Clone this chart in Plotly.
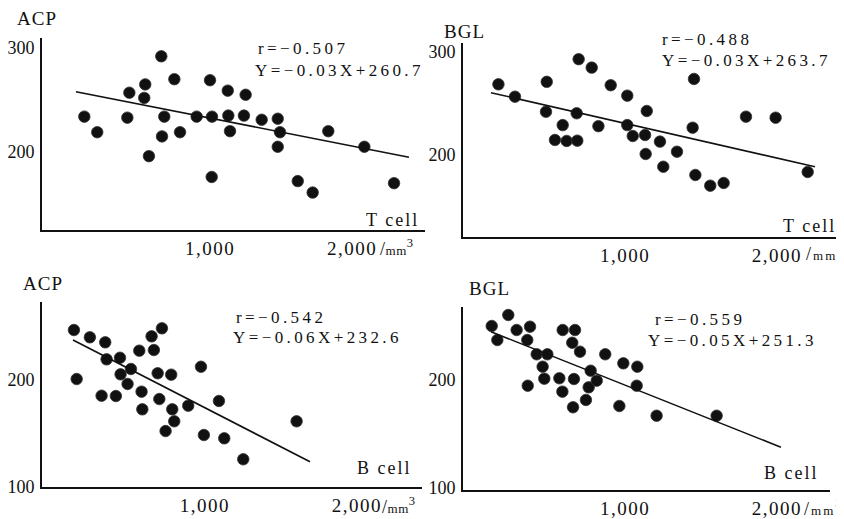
import plotly.graph_objects as go

# ---------------- data ----------------
# Panel 1: ACP vs T cell
acp_t_x = [115, 206, 432, 418, 544, 537, 570, 657, 678, 662, 749, 789, 906, 1000, 1014,
           1012, 1125, 1129, 1141, 1239, 1251, 1364, 1477, 1493, 1477, 1618, 1723, 1833, 2087, 2296]
acp_t_y = [234, 219, 257, 233, 265, 252, 196, 292, 234, 215, 270, 219, 234, 269, 234,
           176, 259, 235, 220, 235, 255, 231, 232, 219, 205, 172, 161, 220, 205, 170]
acp_t_fit_x = [56, 2401]
acp_t_fit_y = [258, 195]

# Panel 2: BGL vs T cell
bgl_t_x = [167, 276, 485, 480, 539, 590, 616, 686, 682, 695, 781, 825, 906, 1015, 1015,
           1051, 1132, 1143, 1136, 1230, 1252, 1342, 1445, 1454, 1463, 1561, 1649, 1796, 1991, 2202]
bgl_t_y = [268.6, 256.6, 271, 242, 214.6, 229, 213.6, 213.9, 240.5, 293, 284.8, 228, 267.7, 257.6, 229,
           218.4, 219.4, 242.7, 201, 213, 188.6, 203.2, 226.5, 273.8, 180.6, 170.2, 172.8, 237.2, 236.2, 183.5]
bgl_t_fit_x = [118, 2250]
bgl_t_fit_y = [260.5, 188.6]

# Panel 3: ACP vs B cell
acp_b_x = [138, 156, 243, 320, 344, 353, 414, 441, 445, 491, 513, 568, 583, 588, 649,
           664, 689, 700, 717, 741, 778, 785, 798, 890, 974, 993, 1092, 1127, 1252, 1603]
acp_b_y = [246.7, 200.9, 239.9, 185.3, 235.2, 219.3, 185, 220.8, 205.3, 196.3, 210.3, 227.4, 189.1, 172.6, 240.8,
           228, 206.3, 182.2, 248.3, 152.3, 205, 172.6, 161.4, 176, 212.4, 148.6, 180.4, 145.5, 125.9, 161.4]
acp_b_fit_x = [132, 1691]
acp_b_fit_y = [237.4, 123.6]

# Panel 4: BGL vs B cell
bgl_b_x = [123, 160, 232, 287, 357, 375, 360, 419, 458, 469, 489, 568, 588, 590, 653,
           664, 658, 671, 704, 743, 761, 774, 814, 870, 963, 989, 1077, 1081, 1208, 1603]
bgl_b_y = [250, 237, 260.2, 246.3, 237, 249.4, 194.7, 223.8, 212.3, 201.2, 223.8, 201.6, 189.2, 246.3, 234.5,
           200.9, 174.7, 246.3, 226.2, 181.5, 193.2, 208.6, 199.4, 223.8, 175.9, 215.4, 194.7, 212.3, 166.9, 166.9]
bgl_b_fit_x = [118, 2026]
bgl_b_fit_y = [244.7, 137.7]

x_tickvals = [1000, 2000]
x_ticktext = ["1,000", "2,000"]
y_tickvals_top = [200, 300]
y_tickvals_bottom = [100, 200]

panel_titles = ["ACP", "BGL", "ACP", "BGL"]
cell_labels = ["T cell", "T cell", "B cell", "B cell"]
r_texts = ["r=−0.507", "r=−0.488", "r=−0.542", "r=−0.559"]
eq_texts = ["Y=−0.03X+260.7", "Y=−0.03X+263.7", "Y=−0.06X+232.6", "Y=−0.05X+251.3"]

# ---------------- layout helpers ----------------
# the page body keeps the browser's 8px margin, so the figure is drawn 8px in
OFF = 8
W, H = 844 - OFF, 519 - OFF
FONT = "Liberation Serif, Times New Roman, serif"


def px(x):
    return (x - OFF) / W


def py(y):
    return 1 - (y - OFF) / H


def spaced(t, s):
    return f'<span style="letter-spacing:{s}px">{t}</span>'


panels = [
    dict(x=acp_t_x, y=acp_t_y, fx=acp_t_fit_x, fy=acp_t_fit_y,
         dom_x=(42, 425), dom_y=(38, 230), xr=(-183, 2514), yr=(125, 309.6), yt=y_tickvals_top,
         title=(16, 18), r=(257, 49), eq=(254, 70), cell=(420, 220), unit=(379, 247), usp=0.5),
    dict(x=bgl_t_x, y=bgl_t_y, fx=bgl_t_fit_x, fy=bgl_t_fit_y,
         dom_x=(463, 844), dom_y=(43, 237), xr=(-66, 2441), yr=(120.4, 308.7), yt=y_tickvals_top,
         title=(443, 31), r=(661, 39), eq=(661, 60), cell=(837, 226), unit=(805, 253), usp=2.0),
    dict(x=acp_b_x, y=acp_b_y, fx=acp_b_fit_x, fy=acp_b_fit_y,
         dom_x=(42, 422), dom_y=(302, 487), xr=(-72, 2428), yr=(100, 272.9), yt=y_tickvals_bottom,
         title=(22, 283), r=(235, 317), eq=(232, 337), cell=(413, 468), unit=(381, 505), usp=0.5),
    dict(x=bgl_b_x, y=bgl_b_y, fx=bgl_b_fit_x, fy=bgl_b_fit_y,
         dom_x=(463, 830), dom_y=(307, 490), xr=(-66, 2349), yr=(98.1, 267.6), yt=y_tickvals_bottom,
         title=(468, 288), r=(654, 319), eq=(647, 340), cell=(820, 473), unit=(803, 507), usp=2.0),
]

fig = go.Figure()
annotations = []
layout = dict(
    width=W, height=H,
    margin=dict(l=0, r=0, t=0, b=0, autoexpand=False),
    paper_bgcolor="white", plot_bgcolor="white",
    showlegend=False,
    font=dict(family=FONT, size=18, color="#111"),
)

for i, p in enumerate(panels):
    n = i + 1
    xa = "x" if n == 1 else f"x{n}"
    ya = "y" if n == 1 else f"y{n}"
    fig.add_trace(go.Scatter(x=p["x"], y=p["y"], mode="markers", xaxis=xa, yaxis=ya,
                             marker=dict(size=11.5, color="#111", line=dict(width=0.8, color="#333")),
                             cliponaxis=False))
    fig.add_trace(go.Scatter(x=p["fx"], y=p["fy"], mode="lines", xaxis=xa, yaxis=ya,
                             line=dict(color="#111", width=1.6)))
    common = dict(showgrid=False, zeroline=False, showline=True, linecolor="#111",
                  linewidth=2, ticks="")
    layout["xaxis" if n == 1 else f"xaxis{n}"] = dict(
        common, domain=[px(p["dom_x"][0]), px(p["dom_x"][1])], range=list(p["xr"]),
        anchor=ya, tickvals=x_tickvals, ticktext=[spaced(t, 1.5) for t in x_ticktext],
        tickfont=dict(family=FONT, size=19, color="#111"), ticklabelstandoff=0)
    layout["yaxis" if n == 1 else f"yaxis{n}"] = dict(
        common, domain=[py(p["dom_y"][1]), py(p["dom_y"][0])], range=list(p["yr"]),
        anchor=xa, tickvals=p["yt"], ticktext=[str(v) for v in p["yt"]],
        tickfont=dict(family=FONT, size=18, color="#111"), ticklabelstandoff=2)

    def ann(text, pos, xanchor="left", size=18):
        annotations.append(dict(text=text, x=px(pos[0]), y=py(pos[1]), xref="paper", yref="paper",
                                xanchor=xanchor, yanchor="middle", align=xanchor, showarrow=False,
                                borderpad=0, font=dict(family=FONT, size=size, color="#111")))

    ann(spaced(panel_titles[i], 1), p["title"], size=19)
    ann(spaced(r_texts[i], 3.4), p["r"], size=17)
    ann(spaced(eq_texts[i], 3.4), p["eq"], size=17)
    ann(spaced(cell_labels[i], 2), p["cell"], xanchor="right")
    ann(f'<span style="letter-spacing:{p["usp"]}px">/<span style="font-size:13px">mm</span></span><sup>3</sup>',
        p["unit"])

layout["annotations"] = annotations
fig.update_layout(**layout)
fig.write_html("out.html")
